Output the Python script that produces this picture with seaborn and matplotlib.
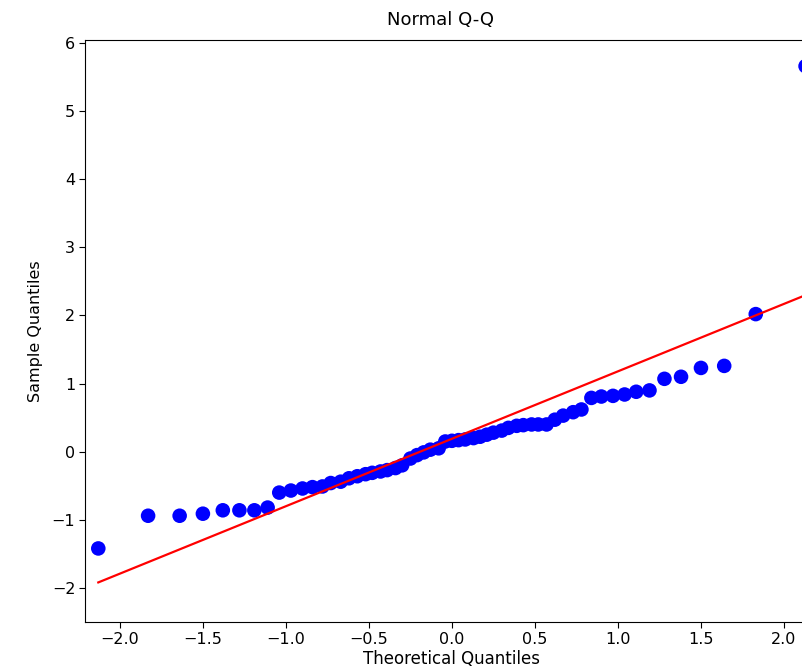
import numpy as np
import pandas as pd
import matplotlib
matplotlib.use("Agg")
import matplotlib.pyplot as plt
import seaborn as sns

# theoretical quantiles (x), 59 points
theoretical = [-2.13, -1.83, -1.64, -1.50, -1.38, -1.28, -1.19, -1.11, -1.04, -0.97,
               -0.90, -0.84, -0.78, -0.73, -0.67, -0.62, -0.57, -0.52, -0.48, -0.43,
               -0.39, -0.34, -0.30, -0.25, -0.21, -0.17, -0.13, -0.08, -0.04, 0.00,
               0.04, 0.08, 0.13, 0.17, 0.21, 0.25, 0.30, 0.34, 0.39, 0.43,
               0.48, 0.52, 0.57, 0.62, 0.67, 0.73, 0.78, 0.84, 0.90, 0.97,
               1.04, 1.11, 1.19, 1.28, 1.38, 1.50, 1.64, 1.83, 2.13]

# sample quantiles (y)
sample = [-1.42, -0.94, -0.94, -0.91, -0.86, -0.86, -0.86, -0.82, -0.60, -0.57,
          -0.54, -0.52, -0.51, -0.46, -0.44, -0.39, -0.36, -0.33, -0.31, -0.29,
          -0.27, -0.24, -0.20, -0.10, -0.05, -0.01, 0.03, 0.05, 0.15, 0.16,
          0.17, 0.18, 0.20, 0.22, 0.25, 0.28, 0.31, 0.35, 0.38, 0.39,
          0.40, 0.40, 0.40, 0.47, 0.53, 0.58, 0.62, 0.79, 0.81, 0.82,
          0.84, 0.88, 0.90, 1.07, 1.10, 1.23, 1.26, 2.02, 5.66]

# reference line y = intercept + slope * x
line_intercept = 0.19
line_slope = 0.99

df = pd.DataFrame({"theoretical": theoretical, "sample": sample})
line_x = [min(theoretical), 2.3]
line_df = pd.DataFrame({"x": line_x,
                        "y": [line_intercept + line_slope * v for v in line_x]})

fig = plt.figure(figsize=(8.02, 6.71), dpi=100)
# the reference is cropped on the right, so the axes run past the figure edge
ax = fig.add_axes([0.106, 0.073, 0.915, 0.867])

sns.scatterplot(data=df, x="theoretical", y="sample", color="#0000ff",
                s=110, edgecolor="none", ax=ax, zorder=2)
sns.lineplot(data=line_df, x="x", y="y", color="#ff0000", linewidth=1.6,
             ax=ax, zorder=3)

ax.set_xlim(-2.21, 2.21)
ax.set_ylim(-2.5, 6.04)
ax.set_xticks([-2.0, -1.5, -1.0, -0.5, 0.0, 0.5, 1.0, 1.5, 2.0])
ax.set_yticks(range(-2, 7))
ax.tick_params(labelsize=11.5, length=4, pad=3)
ax.set_title("Normal Q-Q", fontsize=13, pad=11, x=0.485)
ax.set_xlabel("Theoretical Quantiles", fontsize=12, labelpad=2)
ax.set_ylabel("Sample Quantiles", fontsize=11.5, labelpad=6)

fig.savefig("out.png", dpi=100)
